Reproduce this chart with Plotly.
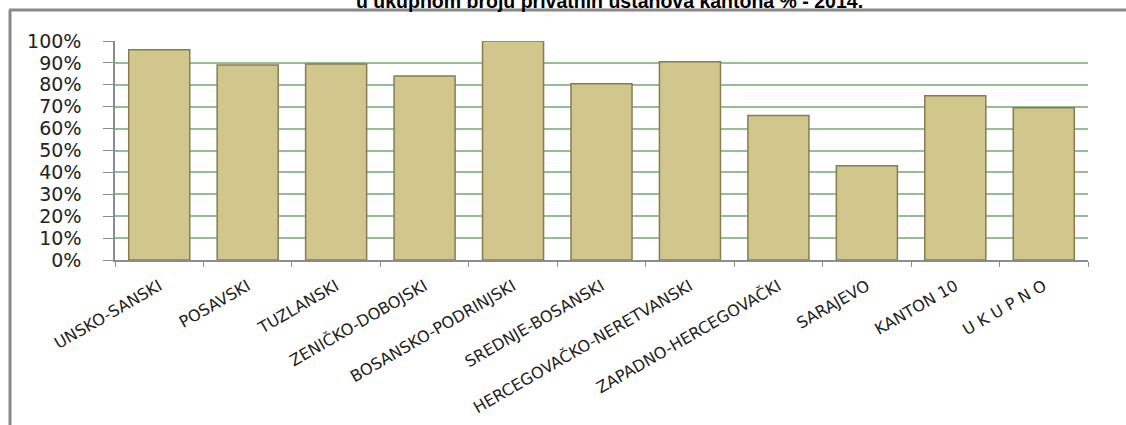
import plotly.graph_objects as go

categories = ["UNSKO-SANSKI", "POSAVSKI", "TUZLANSKI", "ZENIČKO-DOBOJSKI",
              "BOSANSKO-PODRINJSKI", "SREDNJE-BOSANSKI", "HERCEGOVAČKO-NERETVANSKI",
              "ZAPADNO-HERCEGOVAČKI", "SARAJEVO", "KANTON 10", "U K U P N O"]
values = [96, 89, 89.5, 84, 100, 80.5, 90.5, 66, 43, 75, 69.5]
y_ticks = [0, 10, 20, 30, 40, 50, 60, 70, 80, 90, 100]
y_tick_labels = [f"{v}%" for v in y_ticks]
title_text = "u ukupnom broju privatnih ustanova kantona % - 2014."

W, H = 1126, 425
L, R, T, B = 115, 38, 41, 165
pw, ph = W - L - R, H - T - B

def px(x):
    return (x - L) / pw

def py(y):
    return (H - B - y) / ph

fig = go.Figure()
fig.add_trace(go.Bar(
    x=categories, y=values, width=0.69,
    marker=dict(color="#d1c78d", line=dict(color="#857c52", width=1.5)),
))

fig.update_layout(
    width=W, height=H,
    margin=dict(l=L, r=R, t=T, b=B, pad=0),
    paper_bgcolor="white", plot_bgcolor="white",
    showlegend=False,
    bargap=0.31,
    font=dict(family="DejaVu Sans", color="#222222"),
    xaxis=dict(
        tickangle=-30, tickfont=dict(size=16, family="DejaVu Sans", color="#222"),
        showline=True, linecolor="#8c8c8c", linewidth=1.5,
        ticks="outside", tickson="boundaries", ticklen=5, tickcolor="#8c8c8c",
        ticklabelstandoff=9,
        showgrid=False, automargin=False,
    ),
    yaxis=dict(
        range=[0, 100], tickvals=y_ticks, ticktext=y_tick_labels,
        tickfont=dict(size=19, family="DejaVu Sans", color="#222"),
        showline=True, linecolor="#8c8c8c", linewidth=1.5,
        ticks="outside", ticklen=10, tickcolor="#8c8c8c",
        ticklabelstandoff=18,
        showgrid=True, gridcolor="#93bf93", gridwidth=1.5,
        zeroline=False, automargin=False,
    ),
    shapes=[
        dict(type="line", xref="paper", yref="paper",
             x0=px(10), x1=px(10), y0=py(10), y1=py(H + 5),
             line=dict(color="#8a8a8a", width=3)),
        dict(type="line", xref="paper", yref="paper",
             x0=px(9), x1=px(W + 5), y0=py(10), y1=py(10),
             line=dict(color="#8a8a8a", width=3)),
    ],
    annotations=[
        dict(text=f"<b>{title_text}</b>", xref="paper", yref="paper",
             x=px(609), y=py(1), xanchor="center", yanchor="middle",
             showarrow=False, font=dict(size=19.5, family="Liberation Sans", color="#000")),
    ],
)

fig.write_html("out.html", config={"displayModeBar": False},
               post_script="document.body.style.margin='0';document.body.style.overflow='hidden';")
